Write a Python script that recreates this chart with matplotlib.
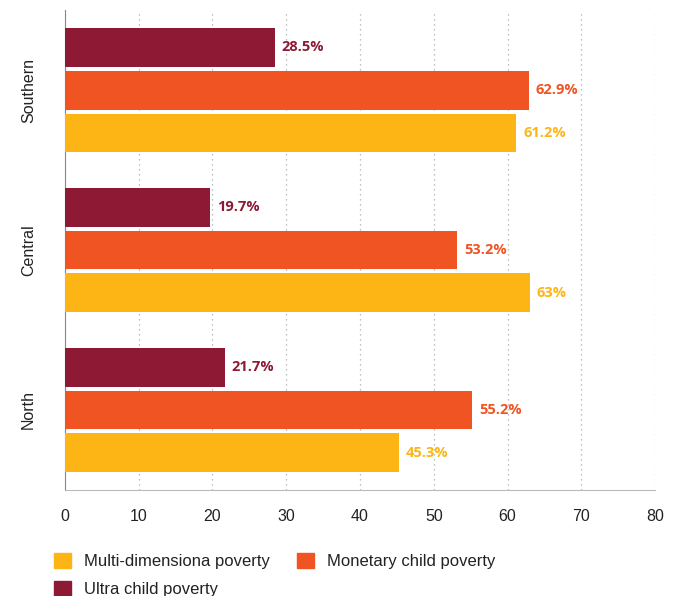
import numpy as np
from matplotlib import pyplot as plt
from matplotlib.patches import Patch

regions = ["North", "Central", "Southern"]
multi = [45.3, 63.0, 61.2]
monetary = [55.2, 53.2, 62.9]
ultra = [21.7, 19.7, 28.5]
value_labels_multi = ["45.3%", "63%", "61.2%"]
value_labels_monetary = ["55.2%", "53.2%", "62.9%"]
value_labels_ultra = ["21.7%", "19.7%", "28.5%"]
series_names = ["Multi-dimensiona poverty", "Monetary child poverty", "Ultra child poverty"]

c_multi = "#FDB515"
c_mon = "#F05423"
c_ultra = "#8E1934"

plt.rcParams['font.family'] = ['Liberation Sans Narrow', 'Liberation Sans', 'DejaVu Sans']

fig = plt.figure(figsize=(6.79, 5.96), dpi=100)
ax = fig.add_axes([0.0957, 0.178, 0.869, 0.805])

y = np.arange(len(regions))
h = 0.243
step = 0.268
series = [
    (multi, value_labels_multi, c_multi, -step),
    (monetary, value_labels_monetary, c_mon, 0),
    (ultra, value_labels_ultra, c_ultra, step),
]
for vals, labs, col, off in series:
    ax.barh(y + off, vals, height=h, color=col, zorder=3)
    for yi, v, lab in zip(y, vals, labs):
        ax.text(v + 0.9, yi + off, lab, va="center", ha="left", color=col,
                fontsize=10.5, fontweight="bold", family=["Open Sans", "DejaVu Sans"])

ax.set_xlim(0, 80)
ax.set_ylim(-0.5, 2.5)
ax.set_xticks(np.arange(0, 81, 10))
ax.set_yticks(y)
ax.set_yticklabels(regions, rotation=90, va="center", fontsize=11.5)
ax.tick_params(axis="x", labelsize=11.5, length=0, pad=14, colors="#222222")
ax.tick_params(axis="y", length=0, pad=21, colors="#222222")
ax.grid(axis="x", linestyle=(0, (1, 3)), color="#aaaaaa", linewidth=0.9, zorder=0)
for s in ["top", "right"]:
    ax.spines[s].set_visible(False)
ax.spines["left"].set_color("#888888")
ax.spines["bottom"].set_color("#bbbbbb")

# column-major fill: reorder so rows read Multi, Monetary / Ultra
order = [0, 2, 1]
handles = [Patch(color=c_multi), Patch(color=c_mon), Patch(color=c_ultra)]
fig.legend([handles[i] for i in order], [series_names[i] for i in order],
           loc="upper left", bbox_to_anchor=(0.058, 0.098),
           ncol=2, frameon=False, fontsize=12, handlelength=1.0, handleheight=1.0,
           handletextpad=0.8, columnspacing=1.6, labelspacing=0.75,
           labelcolor="#222222")

fig.savefig("out.png", dpi=100)
